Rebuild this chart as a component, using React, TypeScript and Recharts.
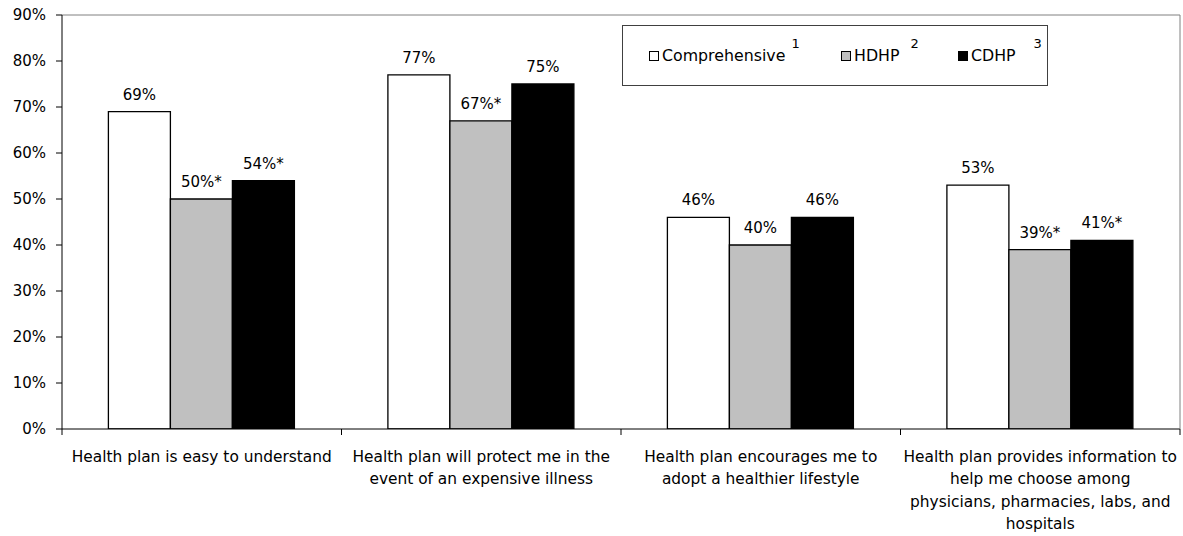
import React from 'react';
import { BarChart, Bar, XAxis, YAxis, Legend, LabelList, ReferenceLine } from 'recharts';

const FONT = '"DejaVu Sans", "Liberation Sans", Arial, sans-serif';

// ---- data ----
const categoryLines: string[][] = [
  ['Health plan is easy to understand'],
  ['Health plan will protect me in the', 'event of an expensive illness'],
  ['Health plan encourages me to', 'adopt a healthier lifestyle'],
  ['Health plan provides information to', 'help me choose among', 'physicians, pharmacies, labs, and', 'hospitals'],
];
const comprehensive = [69, 77, 46, 53];
const hdhp = [50, 67, 40, 39];
const cdhp = [54, 75, 46, 41];
const comprehensiveSignificant = [false, false, false, false];
const hdhpSignificant = [true, true, false, true];
const cdhpSignificant = [true, false, false, true];
const yTicks = [0, 10, 20, 30, 40, 50, 60, 70, 80, 90];

const seriesNames = ['Comprehensive', 'HDHP', 'CDHP'];
const seriesNotes = ['1', '2', '3'];
const seriesColors = ['#ffffff', '#c0c0c0', '#000000'];

const data = categoryLines.map((lines, i) => ({
  name: lines.join(' '),
  comprehensive: comprehensive[i],
  hdhp: hdhp[i],
  cdhp: cdhp[i],
}));

// ---- layout constants ----
const legendLefts = [26, 218, 335];
const legendNoteGaps = [6, 11, 18];

const makeLabel = (flags: boolean[]) => (props: any) => {
  const { x, y, width, value, index } = props;
  const text = `${value}%${flags[index] ? '*' : ''}`;
  return (
    <text
      x={Number(x) + Number(width) / 2}
      y={Number(y) - 12}
      textAnchor="middle"
      fontSize={15}
      fontFamily={FONT}
      fill="#000"
    >
      {text}
    </text>
  );
};

const XTick = (props: any) => {
  const { x, y, payload, index, width, visibleTicksCount } = props;
  const half =
    payload && typeof payload.offset === 'number' && payload.offset > 0
      ? payload.offset
      : Number(width) / Number(visibleTicksCount || categoryLines.length) / 2;
  const lines = categoryLines[index] || [String(payload?.value ?? '')];
  const isLast = index === categoryLines.length - 1;
  return (
    <g>
      <line x1={x - half} x2={x - half} y1={y} y2={y + 6} stroke="#000" strokeWidth={1} />
      {isLast && <line x1={x + half} x2={x + half} y1={y} y2={y + 6} stroke="#000" strokeWidth={1} />}
      <text textAnchor="middle" fontSize={15.4} fontFamily={FONT} fill="#000">
        {lines.map((l, i) => (
          <tspan key={i} x={x} y={y + 32.5 + i * 22.6}>
            {l}
          </tspan>
        ))}
      </text>
    </g>
  );
};

const LegendBox = () => (
  <div
    style={{
      position: 'relative',
      width: 426,
      height: 61,
      border: '1px solid #404040',
      boxSizing: 'border-box',
      background: '#fff',
      fontFamily: FONT,
      color: '#000',
    }}
  >
    {seriesNames.map((name, i) => (
      <div
        key={name}
        style={{
          position: 'absolute',
          left: legendLefts[i],
          top: 20,
          height: 20,
          display: 'flex',
          alignItems: 'center',
          whiteSpace: 'nowrap',
        }}
      >
        <span
          style={{
            display: 'inline-block',
            width: 10,
            height: 10,
            border: '1px solid #000',
            boxSizing: 'border-box',
            background: seriesColors[i],
            marginRight: 3,
          }}
        />
        <span style={{ fontSize: 15.8, lineHeight: '20px' }}>{name}</span>
        <span
          style={{
            fontSize: 13,
            lineHeight: '20px',
            position: 'relative',
            top: -12,
            marginLeft: legendNoteGaps[i],
          }}
        >
          {seriesNotes[i]}
        </span>
      </div>
    ))}
  </div>
);

export default function App() {
  return (
    <div style={{ position: 'absolute', left: 0, top: 0, width: 1183, height: 536, background: '#fff' }}>
      <BarChart
        width={1183}
        height={536}
        data={data}
        margin={{ top: 15, right: 0, bottom: 0, left: 0 }}
        barCategoryGap="16.6%"
        barGap={0}
        style={{ fontFamily: FONT }}
      >
        <XAxis
          dataKey="name"
          height={107}
          interval={0}
          tickLine={false}
          tickSize={0}
          tickMargin={0}
          axisLine={{ stroke: '#000', strokeWidth: 1 }}
          tick={<XTick />}
        />
        <YAxis
          width={62}
          domain={[0, 90]}
          ticks={yTicks}
          tickFormatter={(v: number) => `${v}%`}
          tickSize={6}
          tickMargin={10}
          axisLine={{ stroke: '#000', strokeWidth: 1 }}
          tickLine={{ stroke: '#000', strokeWidth: 1 }}
          tick={{ fontSize: 15, fontFamily: FONT, fill: '#000' }}
          allowDataOverflow
        />
        <YAxis
          yAxisId="right"
          orientation="right"
          width={3}
          domain={[0, 90]}
          tick={false}
          tickLine={false}
          axisLine={{ stroke: '#808080', strokeWidth: 1 }}
        />
        <ReferenceLine y={90} stroke="#808080" strokeWidth={1} />
        <Legend
          layout="horizontal"
          verticalAlign="middle"
          align="center"
          content={<LegendBox />}
          wrapperStyle={{ position: 'absolute', left: 622, top: 25, width: 426, height: 61 }}
        />
        <Bar dataKey="comprehensive" name="Comprehensive" fill={seriesColors[0]} stroke="#000" strokeWidth={1.3} isAnimationActive={false}>
          <LabelList dataKey="comprehensive" content={makeLabel(comprehensiveSignificant)} />
        </Bar>
        <Bar dataKey="hdhp" name="HDHP" fill={seriesColors[1]} stroke="#000" strokeWidth={1.3} isAnimationActive={false}>
          <LabelList dataKey="hdhp" content={makeLabel(hdhpSignificant)} />
        </Bar>
        <Bar dataKey="cdhp" name="CDHP" fill={seriesColors[2]} stroke="#000" strokeWidth={1.3} isAnimationActive={false}>
          <LabelList dataKey="cdhp" content={makeLabel(cdhpSignificant)} />
        </Bar>
      </BarChart>
    </div>
  );
}
